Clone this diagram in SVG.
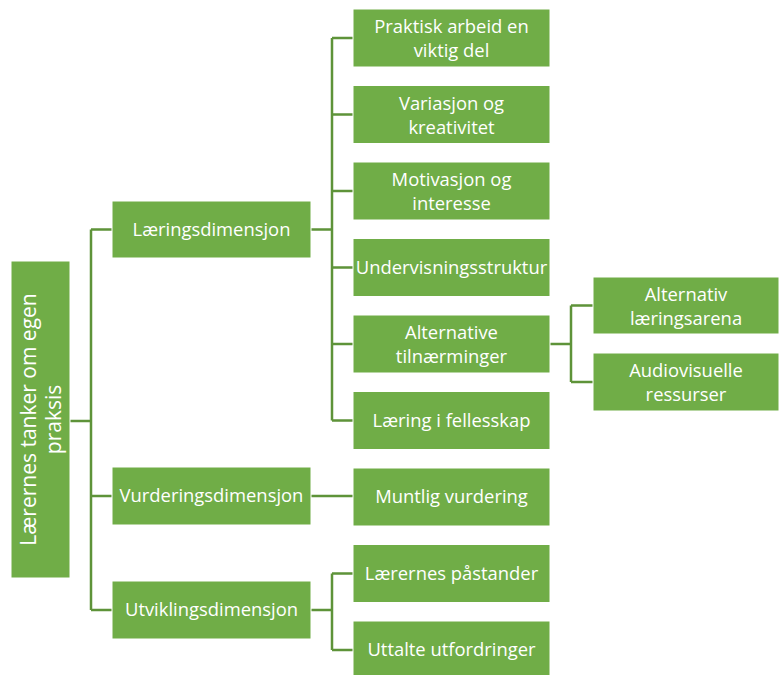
<svg xmlns="http://www.w3.org/2000/svg" width="779" height="675" viewBox="0 0 779 675">
<style>
.box{fill:#70AD47;stroke:#ffffff;stroke-width:1}
.t{font-family:"Open Sans","Liberation Sans",sans-serif;font-size:18.4px;fill:#ffffff;text-anchor:middle;dominant-baseline:central}
.rt{font-family:"Open Sans","Liberation Sans",sans-serif;font-size:21px;fill:#ffffff;text-anchor:middle;dominant-baseline:central}
.c{fill:none;stroke:#5E9339;stroke-width:2.5}
</style>
<rect width="779" height="675" fill="#ffffff"/>
<g id="connectors">
<path class="c" d="M70 421H91M91 229.5V610M91 229.5H112M91 496H112M91 610H112"/>
<path class="c" d="M311 229.5H332M332 38V420.5M332 38H353M332 114.5H353M332 191H353M332 267.5H353M332 344H353M332 420.5H353"/>
<path class="c" d="M311 496H353"/>
<path class="c" d="M311 610H332M332 573.5V650M332 573.5H353M332 650H353"/>
<path class="c" d="M550 344H571M571 305.5V382M571 305.5H593M571 382H593"/>
</g>
<g id="root"><rect class="box" x="11" y="261" width="59" height="317"/>
<text class="rt" transform="translate(40,419.5) rotate(-90)"><tspan x="0" y="-12.5">Lærernes tanker om egen</tspan><tspan x="0" y="13">praksis</tspan></text></g>
<g id="laering"><rect class="box" x="112" y="201" width="199" height="57"/><text class="t" x="211.5" y="228">Læringsdimensjon</text></g>
<g id="vurdering"><rect class="box" x="112" y="467" width="199" height="58"/><text class="t" x="211.5" y="494.5">Vurderingsdimensjon</text></g>
<g id="utvikling"><rect class="box" x="112" y="581" width="199" height="58"/><text class="t" x="211.5" y="608.5">Utviklingsdimensjon</text></g>
<g id="praktisk"><rect class="box" x="353" y="9" width="197" height="58"/><text class="t"><tspan x="451.5" y="25">Praktisk arbeid en</tspan><tspan x="451.5" y="49">viktig del</tspan></text></g>
<g id="variasjon"><rect class="box" x="353" y="85.5" width="197" height="58"/><text class="t"><tspan x="451.5" y="101.5">Variasjon og</tspan><tspan x="451.5" y="125.5">kreativitet</tspan></text></g>
<g id="motivasjon"><rect class="box" x="353" y="162" width="197" height="58"/><text class="t"><tspan x="451.5" y="178">Motivasjon og</tspan><tspan x="451.5" y="202">interesse</tspan></text></g>
<g id="undervisning"><rect class="box" x="353" y="238.5" width="197" height="58"/><text class="t" x="451.5" y="266">Undervisningsstruktur</text></g>
<g id="alternative"><rect class="box" x="353" y="315" width="197" height="58"/><text class="t"><tspan x="451.5" y="331">Alternative</tspan><tspan x="451.5" y="355">tilnærminger</tspan></text></g>
<g id="fellesskap"><rect class="box" x="353" y="391.5" width="197" height="58"/><text class="t" x="451.5" y="419">Læring i fellesskap</text></g>
<g id="muntlig"><rect class="box" x="353" y="468" width="197" height="58"/><text class="t" x="451.5" y="495.5">Muntlig vurdering</text></g>
<g id="pastander"><rect class="box" x="353" y="544.5" width="197" height="58"/><text class="t" x="451.5" y="572">Lærernes påstander</text></g>
<g id="utfordringer"><rect class="box" x="353" y="621" width="197" height="58"/><text class="t" x="451.5" y="648.5">Uttalte utfordringer</text></g>
<g id="arena"><rect class="box" x="593" y="277" width="186" height="57"/><text class="t"><tspan x="686" y="292.5">Alternativ</tspan><tspan x="686" y="316.5">læringsarena</tspan></text></g>
<g id="audiovisuelle"><rect class="box" x="593" y="353" width="186" height="58"/><text class="t"><tspan x="686" y="369">Audiovisuelle</tspan><tspan x="686" y="393">ressurser</tspan></text></g>
</svg>
